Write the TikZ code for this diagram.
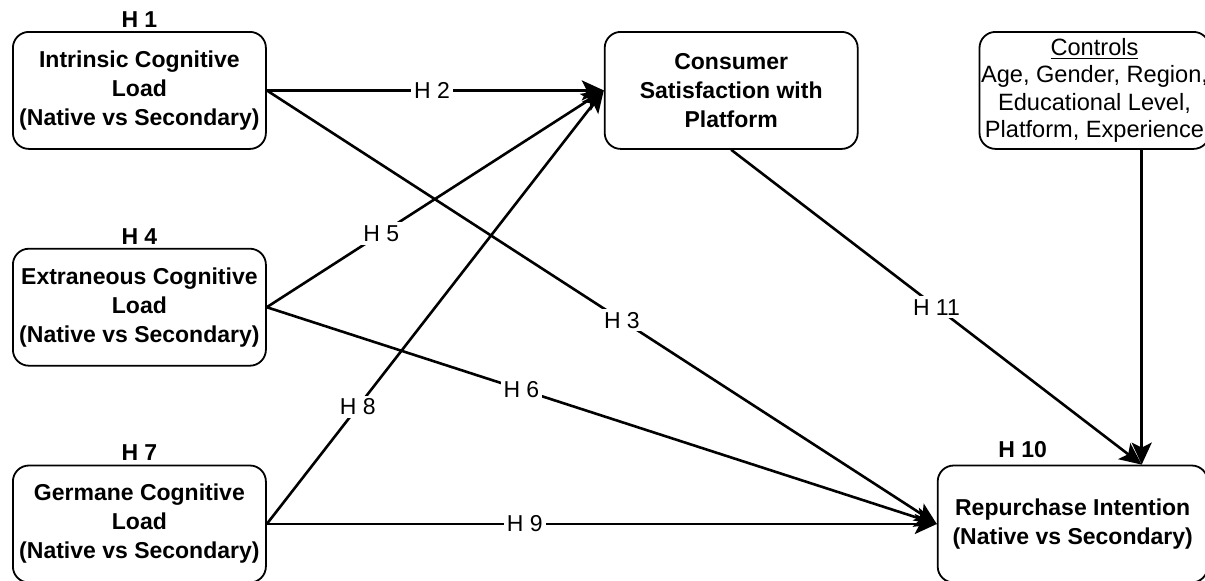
\documentclass[tikz,border=0pt]{standalone}
\usepackage{fontspec}
\setmainfont{Liberation Sans}
\usetikzlibrary{arrows.meta,positioning,calc}

\begin{document}
\begin{tikzpicture}[
    var/.style={rectangle, draw=black, line width=0.9pt, rounded corners=8pt, align=center, minimum width=126.5pt, minimum height=58.5pt, inner sep=0pt, font=\fontsize{11.5}{14.5}\selectfont\bfseries},
    ctrlbox/.style={var, minimum width=115pt, font=\fontsize{11.8}{13.75}\selectfont},
    hyp/.style={inner sep=1pt, font=\fontsize{11.5}{13}\selectfont\bfseries},
    elabel/.style={fill=white, inner sep=1.5pt, font=\fontsize{11.5}{13}\selectfont},
    arrow/.style={draw, line width=1.3pt, -{Stealth[length=11pt,width=10pt,inset=2.5pt]}}
]
    \useasboundingbox (0,0) rectangle (602.5pt,-290pt);
    \node[var, anchor=north west] (intr) at (6pt,-15.5pt) {Intrinsic Cognitive\\Load\\(Native vs Secondary)};
    \node[var, below=49pt of intr] (extr) {Extraneous Cognitive\\Load\\(Native vs Secondary)};
    \node[var, below=49pt of extr] (germ) {Germane Cognitive\\Load\\(Native vs Secondary)};
    \node[var, right=168.5pt of intr] (sat) {Consumer\\Satisfaction with\\Platform};
    \node[ctrlbox, right=60pt of sat] (ctrl) {\underline{Controls}\\Age, Gender, Region,\\Educational Level,\\Platform, Experience};
    \node[var, minimum width=135pt, right=335pt of germ] (rep) {Repurchase Intention\\(Native vs Secondary)};
    \node[hyp, above=0.5pt of intr] (h1) {H 1};
    \node[hyp, above=0.5pt of extr] (h4) {H 4};
    \node[hyp, above=1pt of germ] (h7) {H 7};
    \node[hyp, above=2pt of rep, xshift=-25pt] (h10) {H 10};
    \coordinate (rtop) at ($(rep.north)+(34.5pt,0)$);
    \path [arrow] (intr.east) -- node[elabel, pos=0.49] (l2) {H 2} (sat.west);
    \path [arrow] (intr.east) -- node[elabel, pos=0.53] (l3) {H 3} (rep.west);
    \path [arrow] (extr.east) -- node[elabel, pos=0.34] (l5) {H 5} (sat.west);
    \path [arrow] (extr.east) -- node[elabel, pos=0.38] (l6) {H 6} (rep.west);
    \path [arrow] (germ.east) -- node[elabel, pos=0.27] (l8) {H 8} (sat.west);
    \path [arrow] (germ.east) -- node[elabel, pos=0.385] (l9) {H 9} (rep.west);
    \path [arrow] (sat.south) -- node[elabel, pos=0.5] (l11) {H 11} (rtop);
    \path [arrow] (ctrl.south -| rtop) -- (rtop);
\end{tikzpicture}
\end{document}
